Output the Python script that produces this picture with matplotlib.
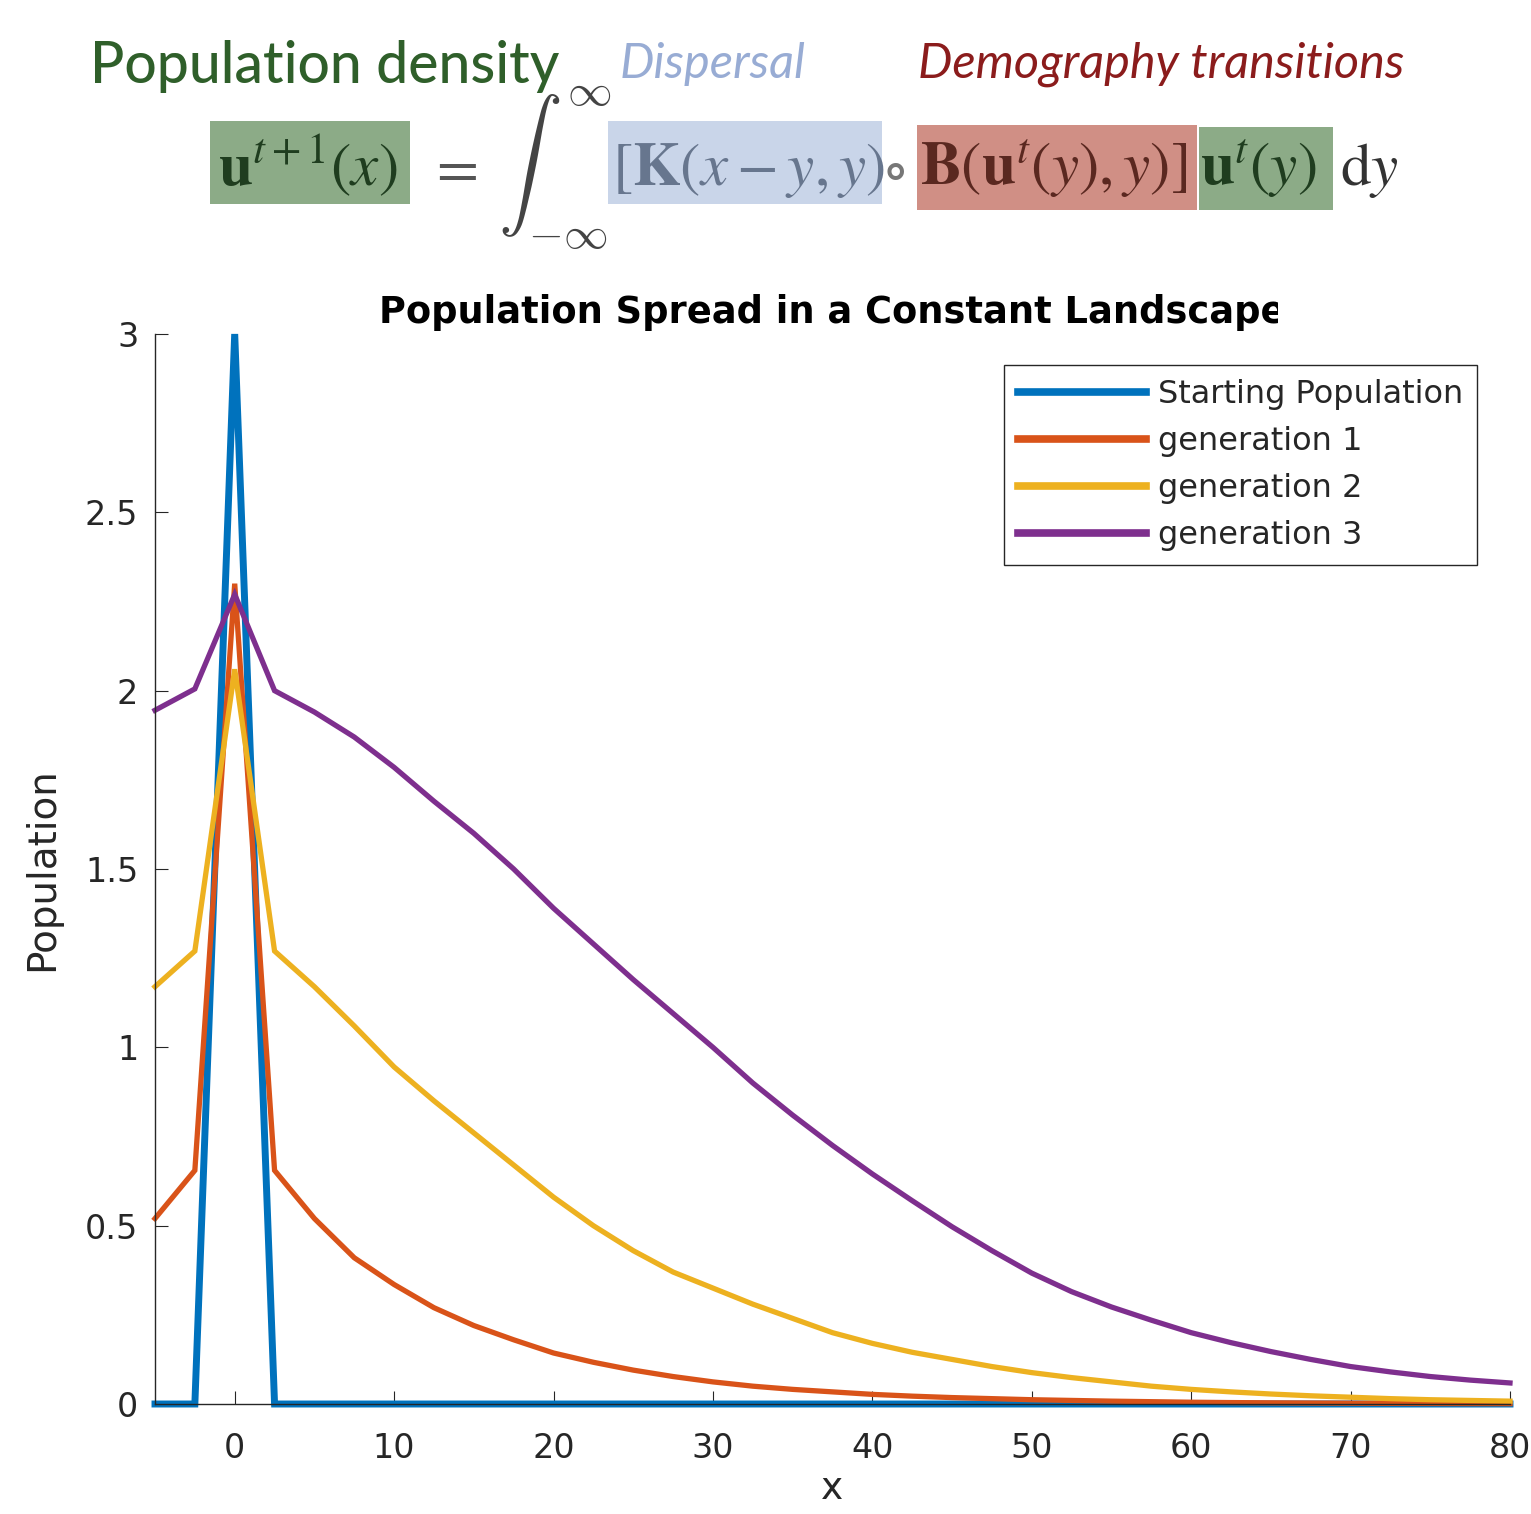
import matplotlib
matplotlib.use("Agg")
import matplotlib.pyplot as plt
from matplotlib.patches import Rectangle
from matplotlib.transforms import Bbox, TransformedBbox

plt.rcParams['font.family'] = ['DejaVu Sans']
plt.rcParams['mathtext.fontset'] = 'stix'

# ---------------- data ----------------
x_vals = [-5, -2.5, 0, 2.5, 5, 7.5, 10, 12.5, 15, 17.5, 20, 22.5, 25, 27.5, 30,
          32.5, 35, 37.5, 40, 42.5, 45, 47.5, 50, 52.5, 55, 57.5, 60, 62.5, 65,
          67.5, 70, 72.5, 75, 77.5, 80]
starting_population = [0, 0, 3, 0, 0, 0, 0, 0, 0, 0, 0, 0, 0, 0, 0, 0, 0, 0, 0,
                       0, 0, 0, 0, 0, 0, 0, 0, 0, 0, 0, 0, 0, 0, 0, 0]
generation_1 = [0.52, 0.655, 2.30, 0.655, 0.52, 0.41, 0.335, 0.27, 0.22, 0.18,
                0.143, 0.117, 0.095, 0.077, 0.062, 0.050, 0.041, 0.034, 0.027,
                0.022, 0.018, 0.015, 0.012, 0.010, 0.008, 0.0065, 0.005, 0.004,
                0.0033, 0.0027, 0.0022, 0.0018, 0.0015, 0.0012, 0.001]
generation_2 = [1.17, 1.27, 2.06, 1.27, 1.17, 1.06, 0.945, 0.85, 0.76, 0.67,
                0.58, 0.50, 0.43, 0.37, 0.325, 0.28, 0.24, 0.20, 0.17, 0.145,
                0.125, 0.105, 0.088, 0.074, 0.062, 0.05, 0.041, 0.034, 0.028,
                0.023, 0.019, 0.015, 0.012, 0.010, 0.008]
generation_3 = [1.945, 2.005, 2.27, 2.0, 1.94, 1.87, 1.785, 1.69, 1.60, 1.50,
                1.39, 1.29, 1.19, 1.095, 1.0, 0.90, 0.81, 0.725, 0.645, 0.57,
                0.497, 0.43, 0.367, 0.315, 0.272, 0.235, 0.20, 0.172, 0.147,
                0.125, 0.105, 0.09, 0.077, 0.067, 0.059]
series_labels = ['Starting Population', 'generation 1', 'generation 2', 'generation 3']
x_ticks = [0, 10, 20, 30, 40, 50, 60, 70, 80]
y_ticks = [0, 0.5, 1, 1.5, 2, 2.5, 3]
y_tick_labels = ['0', '0.5', '1', '1.5', '2', '2.5', '3']

colors = ['#0072BD', '#D95319', '#EDB120', '#7E2F8E']
W, H = 1531, 1514
fig = plt.figure(figsize=(W / 100, H / 100), dpi=100)
fig.patch.set_facecolor('white')


def fx(px):
    return px / W


def fy(py):
    return 1 - py / H


# ---------------- header (equation) ----------------
fig.text(fx(90), fy(83), 'Population density', family='Lato', fontsize=41,
         weight='medium', color='#2f5f2a', ha='left', va='baseline')
fig.text(fx(620), fy(78), 'Dispersal', family='Lato', style='italic', fontsize=35,
         color='#98acd4', ha='left', va='baseline')
fig.text(fx(918), fy(78), 'Demography transitions', family='Lato', style='italic',
         fontsize=35, color='#8b1c1c', ha='left', va='baseline')

boxes = [((210, 121, 410, 204), '#8cab87'),
         ((608, 121, 882, 204), '#c9d5e9'),
         ((917, 125, 1197, 210), '#d08f85'),
         ((1199, 127, 1333, 210), '#8cab87')]
for (x0, y0, x1, y1), c in boxes:
    fig.patches.append(Rectangle((fx(x0), fy(y1)), (x1 - x0) / W, (y1 - y0) / H,
                                 transform=fig.transFigure, facecolor=c,
                                 edgecolor='none', zorder=0))

eq_fs = 44
base = 185
fig.text(fx(218), fy(base), r'$\mathbf{u}^{t+1}(x)$', fontsize=eq_fs, color='#1f3d1f',
         ha='left', va='baseline')
fig.text(fx(428), fy(base), r'$=$', fontsize=eq_fs, color='#555555', ha='left', va='baseline')
fig.text(fx(498), fy(188), r'$\int_{-\infty}^{\infty}$', fontsize=46, color='#444444',
         ha='left', va='baseline', math_fontfamily='cm')
fig.text(fx(612), fy(base), r'$[\mathbf{K}(x-y,y)$', fontsize=eq_fs, color='#67768e',
         ha='left', va='baseline')
fig.text(fx(884), fy(base), r'$\circ$', fontsize=eq_fs, color='#777777', ha='left', va='baseline')
fig.text(fx(920), fy(base), r'$\mathbf{B}(\mathbf{u}^t(y),y)]$', fontsize=eq_fs,
         color='#5a2820', ha='left', va='baseline')
fig.text(fx(1200), fy(base), r'$\mathbf{u}^t(y)$', fontsize=eq_fs, color='#1f3d1f',
         ha='left', va='baseline')
fig.text(fx(1340), fy(base), r'$\mathrm{d}y$', fontsize=eq_fs, color='#333333',
         ha='left', va='baseline')

# ---------------- plot ----------------
ax = fig.add_axes([fx(155), fy(1404), (1510 - 155) / W, (1404 - 334) / H])
series = [starting_population, generation_1, generation_2, generation_3]
widths = [5.0, 3.8, 3.8, 3.8]
for vals, c, lw, lab in zip(series, colors, widths, series_labels):
    ax.plot(x_vals, vals, color=c, linewidth=lw, label=lab, clip_on=False,
            solid_joinstyle='miter')

ax.set_xlim(-5, 80)
ax.set_ylim(0, 3)
ax.set_xticks(x_ticks)
ax.set_yticks(y_ticks)
ax.set_yticklabels(y_tick_labels)
for s in ['top', 'right']:
    ax.spines[s].set_visible(False)
for s in ['left', 'bottom']:
    ax.spines[s].set_color('#262626')
    ax.spines[s].set_linewidth(1.0)
ax.tick_params(direction='in', length=9.5, width=0.8, colors='#262626',
               labelsize=24, labelcolor='#262626')
ax.tick_params(axis='x', pad=20)
ax.tick_params(axis='y', pad=12)

ax.set_ylabel('Population', fontsize=28, color='#262626')
ax.yaxis.set_label_coords(-0.069, 0.5)
ax.set_xlabel('x', fontsize=27, color='#262626')
ax.xaxis.set_label_coords(0.5, -0.063)

title = ax.set_title('Population Spread in a Constant Landscape', fontsize=26.5,
                     fontweight='bold', color='black', pad=8)
title.set_clip_box(TransformedBbox(Bbox([[0, 0], [1278 / W, 1]]), fig.transFigure))
title.set_clip_on(True)

leg = ax.legend(loc='upper right', bbox_to_anchor=(fx(1477), fy(365)),
                bbox_transform=fig.transFigure, borderaxespad=0, fontsize=23,
                handlelength=4.0, handletextpad=0.37, labelspacing=0.5,
                fancybox=False, framealpha=1, edgecolor='#262626',
                borderpad=0.44)
leg.get_frame().set_linewidth(1.0)
for t in leg.get_texts():
    t.set_color('#262626')
for h in leg.legend_handles:
    h.set_linewidth(5.5)

fig.savefig('out.png', dpi=100)
